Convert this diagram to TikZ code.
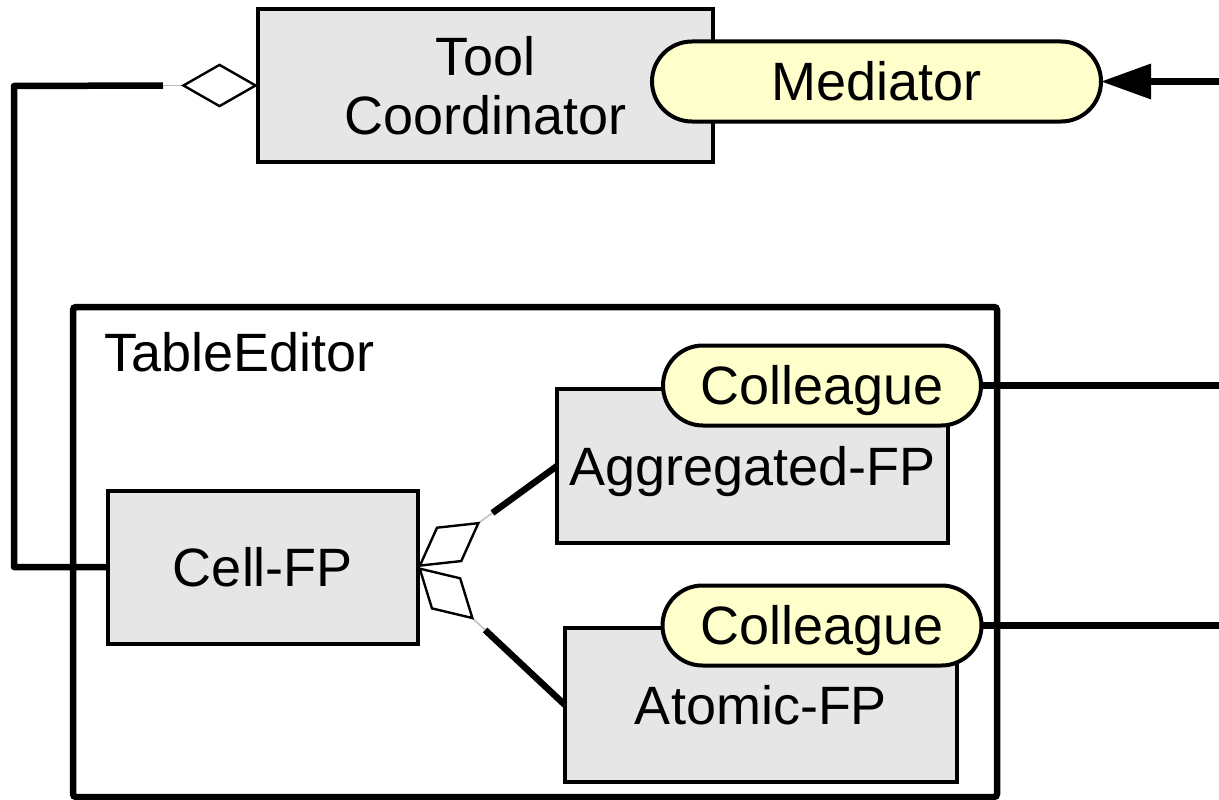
\documentclass[tikz,border=0pt]{standalone}
\usepackage{fontspec}
\setmainfont{Liberation Sans}
\usetikzlibrary{arrows.meta,calc}
\definecolor{boxgray}{HTML}{E6E6E6}
\definecolor{pillyellow}{HTML}{FFFFCC}
\begin{document}
\begin{tikzpicture}[x=1pt,y=-1pt,
  every node/.style={font=\fontsize{54}{59}\selectfont, inner sep=0pt, outer sep=0pt},
  capc/.style={text height=38.7pt, text depth=0pt},
  classbox/.style={draw=black, line width=4pt, fill=boxgray, rectangle, align=center},
  pill/.style={draw=black, line width=4pt, fill=pillyellow, rectangle, rounded corners=40pt, capc},
  frame/.style={draw=black, line width=6.5pt, rectangle, rounded corners=3pt},
  conn/.style={draw=black, line width=6.5pt, line join=round},
  guide/.style={draw=black!25, line width=1.5pt},
  aggtip/.style={{Diamond[open, fill=white, color=black, length=77pt, width=44pt, line width=2.4pt]}-},
]
\useasboundingbox (0,0) rectangle (1219,800);

% package frame
\node[frame, minimum width=924pt, minimum height=490pt] (te) at (535,552) {};
\node[anchor=base west] (telabel) at (104,371) {TableEditor};

% classes
\node[classbox, minimum width=455pt, minimum height=153pt] (tc) at (485.5,85.5) {Tool\\Coordinator};
\node[classbox, capc, minimum width=310pt, minimum height=153pt] (cell) at (263,567) {Cell-FP};
\node[classbox, capc, minimum width=391pt, minimum height=154pt] (agg) at (752.5,466) {Aggregated-FP};
\node[classbox, capc, minimum width=392pt, minimum height=154pt] (atom) at (761,705) {Atomic-FP};

% roles
\node[pill, minimum width=449pt, minimum height=80pt] (med) at (876.5,81.5) {Mediator};
\node[pill, minimum width=318pt, minimum height=80pt] (col1) at (822,385.5) {Colleague};
\node[pill, minimum width=319pt, minimum height=80pt] (col2) at (822,625.5) {Colleague};

% free ends at the right border
\coordinate (medR) at (1219,81.5);
\coordinate (col1R) at (1219,385.5);
\coordinate (col2R) at (1219,625.5);
\coordinate (bend) at (14,86);

% incoming arrow to the mediator
\draw[conn, -{Triangle[length=50pt, width=34pt]}] (medR) -- (med.east);
\draw[conn] (col1.east) -- (col1R);
\draw[conn] (col2.east) -- (col2R);

% aggregation: tool coordinator -> cell
\draw[guide, aggtip] (tc.west) -- ++(-95,0);
\draw[conn] ($(tc.west)+(-95,0)$) -- (bend) |- (cell.west);

% aggregation: cell -> parts
\draw[guide, aggtip] (cell.east) -- (agg.west);
\draw[conn, shorten <=92pt] (cell.east) -- (agg.west);
\draw[guide, aggtip] (cell.east) -- (atom.west);
\draw[conn, shorten <=92pt] (cell.east) -- (atom.west);
\end{tikzpicture}
\end{document}
